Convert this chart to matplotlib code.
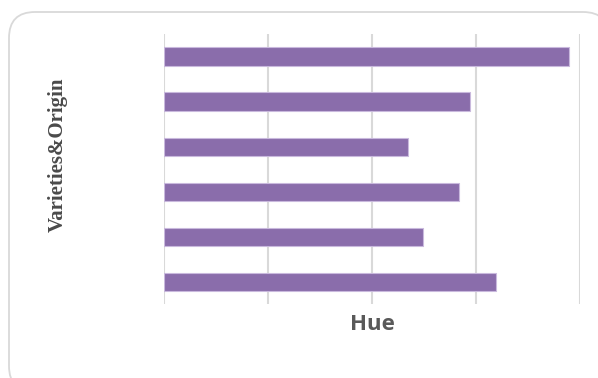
import matplotlib
matplotlib.use("Agg")
import matplotlib.pyplot as plt
from matplotlib.patches import FancyBboxPatch

# Bar lengths (top bar first) and axis scale
varieties = ["V1", "V2", "V3", "V4", "V5", "V6"]
hue_values = [3.89, 2.94, 2.35, 2.84, 2.49, 3.19]
x_ticks = [0, 1, 2, 3, 4]

W, H, DPI = 598, 378, 100
fig = plt.figure(figsize=(W / DPI, H / DPI), dpi=DPI)
fig.patch.set_facecolor("white")

# Background layer in pixel units for the rounded frame
bg = fig.add_axes([0, 0, 1, 1])
bg.set_xlim(0, W)
bg.set_ylim(H, 0)
bg.axis("off")
frame = FancyBboxPatch((9, 12), 600, 380,
                       boxstyle="round,pad=0,rounding_size=26",
                       facecolor="white", edgecolor="#d9d9d9", linewidth=1.3)
bg.add_patch(frame)

ax = fig.add_axes([164 / W, 1 - 304 / H, (580 - 164) / W, (304 - 34) / H])
ax.set_facecolor("none")
ypos = list(range(len(varieties)))[::-1]
ax.barh(ypos, hue_values, height=0.4, color="#8a6dab",
        edgecolor="#c9b9dd", linewidth=0.8, zorder=3)
ax.set_xlim(x_ticks[0], x_ticks[-1])
ax.set_ylim(-0.5, len(varieties) - 0.5)
ax.set_xticks(x_ticks)
ax.set_yticks([])
ax.tick_params(axis="x", length=0, labelbottom=False)
ax.grid(axis="x", color="#d9d9d9", linewidth=1.5, zorder=0)
for s in ax.spines.values():
    s.set_visible(False)

fig.text(372 / W, 1 - 325 / H, "Hue", ha="center", va="center",
         fontsize=16, fontweight="bold", color="#595959", family="Open Sans")
fig.text(58 / W, 1 - 155 / H, "Varieties&Origin", ha="center", va="center",
         rotation=90, fontsize=15, fontweight="bold", color="#4a4a4a",
         family="Liberation Serif")

fig.savefig("out.png", dpi=DPI)
